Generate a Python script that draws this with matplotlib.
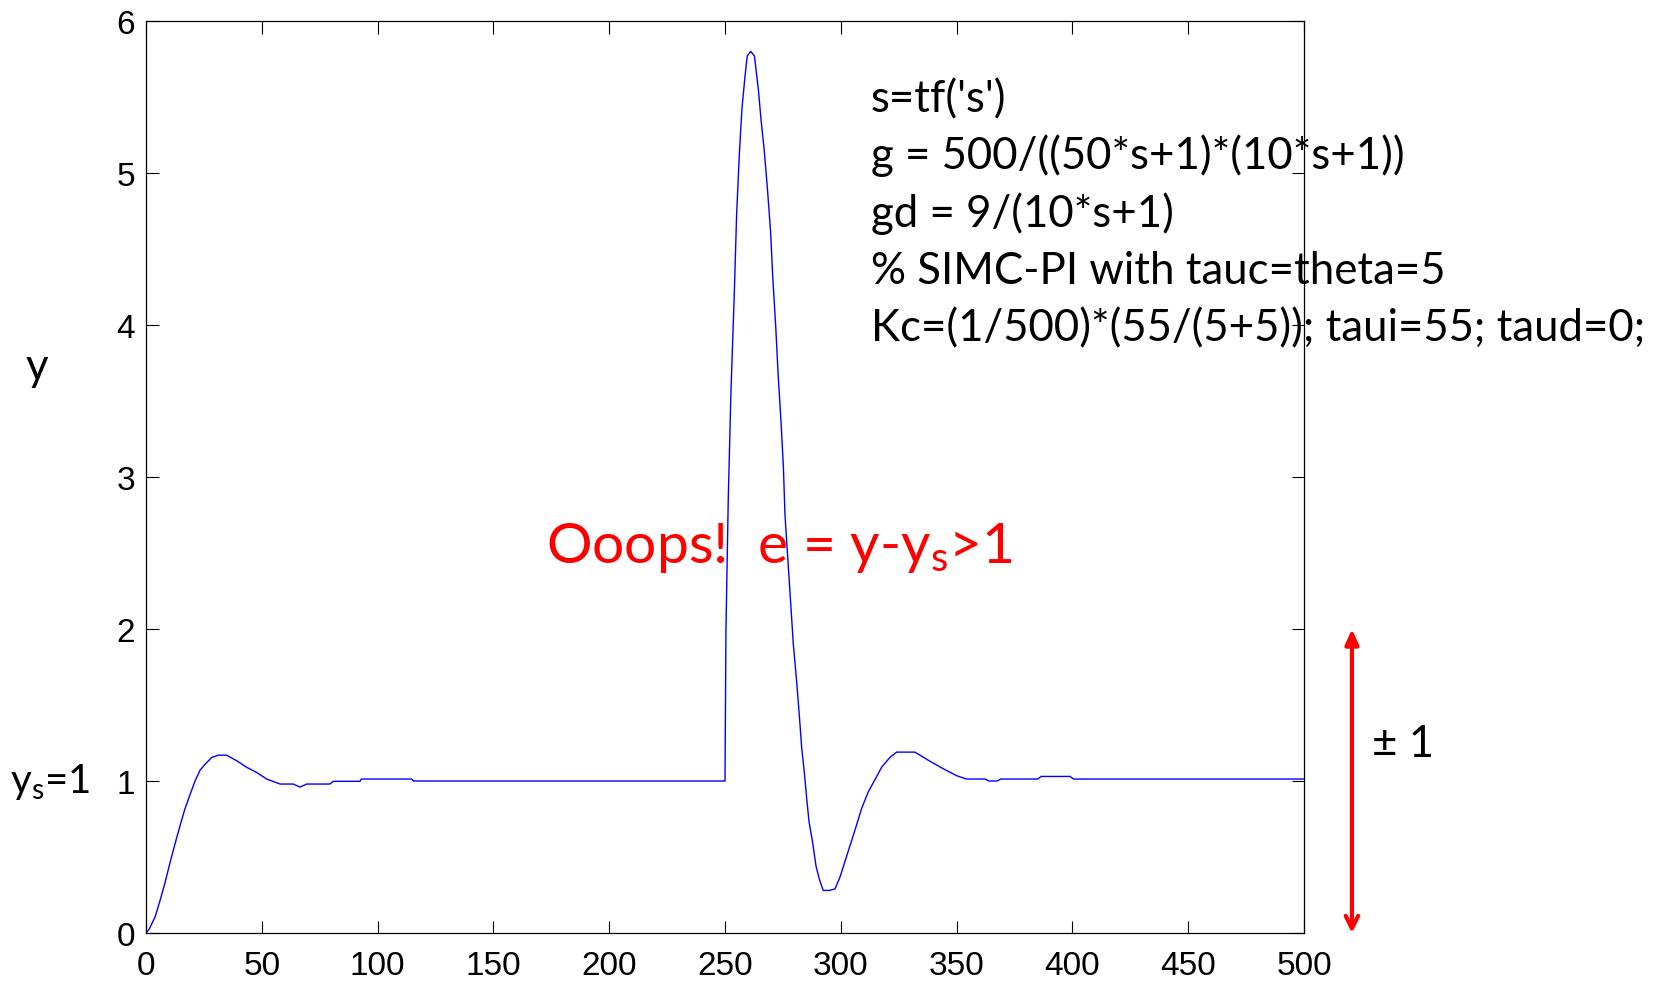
import matplotlib
matplotlib.use("Agg")
import matplotlib.pyplot as plt

# ---- data ----
t = [0, 1.4, 3.9, 6, 8.2, 10.4, 12.5, 14.7, 16.8, 19, 21.2, 23.3, 25.5, 28.4, 31.2,
     34.8, 39.2, 43.5, 47.8, 52.1, 57.9, 63.6, 66.5, 69.4, 79.4, 80.9, 92.4, 93,
     114.7, 115.5, 250, 250.4, 251.4, 252.6, 254, 255, 256.2, 257.3, 258.6, 259.6,
     261.1, 262.7, 263.4, 264.4, 265.5, 267, 268.4, 269.7, 270.6, 271.9, 273, 274.2,
     275.2, 275.9, 277.3, 278.4, 279.5, 280.9, 282.1, 283.1, 284.3, 285.3, 286.3,
     287.8, 289.3, 290.7, 292.4, 295, 297.5, 299.7, 302.2, 304.7, 306.8, 309, 311.9,
     314.8, 317.6, 321.2, 324.1, 332, 338.5, 344.3, 350, 354.3, 362.3, 364, 367.5,
     369, 385, 386.5, 399, 400.5, 500]
y = [0, 0.026, 0.105, 0.21, 0.33, 0.465, 0.585, 0.706, 0.816, 0.91, 1.00, 1.07, 1.11,
     1.155, 1.17, 1.17, 1.133, 1.09, 1.056, 1.013, 0.98, 0.98, 0.96, 0.98, 0.98,
     0.998, 0.998, 1.013, 1.013, 1.0, 1.0, 1.98, 2.85, 3.58, 4.20, 4.72, 5.125, 5.42,
     5.63, 5.77, 5.80, 5.77, 5.68, 5.55, 5.36, 5.14, 4.88, 4.61, 4.32, 3.99, 3.66,
     3.36, 3.07, 2.75, 2.42, 2.16, 1.90, 1.66, 1.43, 1.22, 1.05, 0.88, 0.73, 0.60,
     0.44, 0.355, 0.28, 0.28, 0.29, 0.37, 0.49, 0.61, 0.71, 0.82, 0.93, 1.01, 1.09,
     1.155, 1.19, 1.19, 1.13, 1.08, 1.035, 1.013, 1.013, 1.0, 1.0, 1.013, 1.013,
     1.03, 1.03, 1.013, 1.013]
xticks = [0, 50, 100, 150, 200, 250, 300, 350, 400, 450, 500]
yticks = [0, 1, 2, 3, 4, 5, 6]
code_lines = ["s=tf('s')",
              "g = 500/((50*s+1)*(10*s+1))",
              "gd = 9/(10*s+1)",
              "% SIMC-PI with tauc=theta=5",
              "Kc=(1/500)*(55/(5+5)); taui=55; taud=0;"]
arrow_range = (0, 2)
arrow_x = 520.7

W, H = 1662, 987
fig = plt.figure(figsize=(W / 100, H / 100), dpi=100)
ax = fig.add_axes([146 / W, 1 - 934 / H, (1304 - 146) / W, (934 - 22) / H])

ax.plot(t, y, color='#0000ff', lw=1.0)
ax.set_xlim(0, 500)
ax.set_ylim(0, 6)
ax.set_xticks(xticks)
ax.set_yticks(yticks)
ax.tick_params(direction='in', length=9, width=0.8, top=True, right=True,
               labelsize=24, pad=8)
ax.tick_params(axis='x', pad=12)
for lab in ax.get_xticklabels() + ax.get_yticklabels():
    lab.set_fontfamily('Liberation Sans')
for sp in ax.spines.values():
    sp.set_linewidth(0.9)

txtfont = 'Lato'
fs = 31.5
for i, line in enumerate(code_lines):
    fig.text(871 / W, 1 - (112 + i * 57.3) / H, line, fontsize=fs,
             family=txtfont, va='baseline', ha='left')

fig.text(37 / W, 1 - 368 / H, 'y', fontsize=fs, family=txtfont,
         ha='center', va='center')
fig.text(10 / W, 1 - 782 / H, r'$\mathregular{y_s}$=1', fontsize=29,
         family=txtfont, ha='left', va='center')
fig.text(1372 / W, 1 - 745 / H, '± 1', fontsize=fs, family=txtfont,
         ha='left', va='center')
fig.text(546 / W, 1 - 548 / H, r'Ooops!  e = y-$\mathregular{y_s}$>1',
         fontsize=41, family=txtfont, color='#ff0000', ha='left', va='center')

mid = (arrow_range[0] + arrow_range[1]) / 2
ax.annotate('', xy=(arrow_x, arrow_range[1]), xytext=(arrow_x, mid),
            arrowprops=dict(arrowstyle='-|>,head_length=0.9,head_width=0.4',
                            color='#ff0000', lw=3, shrinkA=0, shrinkB=0),
            annotation_clip=False)
ax.annotate('', xy=(arrow_x, arrow_range[0]), xytext=(arrow_x, mid),
            arrowprops=dict(arrowstyle='->,head_length=0.9,head_width=0.45',
                            color='#ff0000', lw=3, shrinkA=0, shrinkB=0),
            annotation_clip=False)

fig.savefig('out.png', dpi=100)
